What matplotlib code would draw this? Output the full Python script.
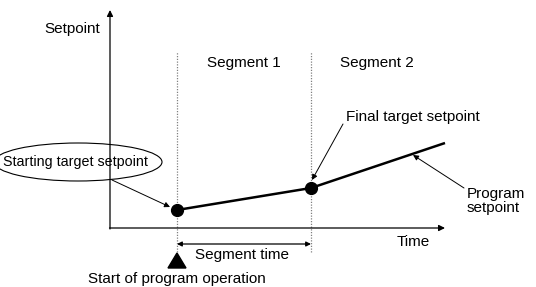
import matplotlib
matplotlib.use("Agg")
import matplotlib.pyplot as plt
from matplotlib.patches import Ellipse, Polygon

plt.rcParams['font.family'] = ['Liberation Sans', 'DejaVu Sans']

# schematic units: time to the right of the setpoint axis, setpoint above the time axis
times = [67, 201, 335]
setpoints = [18, 40, 85]
segment_edges = [67, 201]
segment_names = ["Segment 1", "Segment 2"]
segment_label_x = [134, 267]

fig = plt.figure(figsize=(5.36, 2.87), dpi=100)
ax = fig.add_axes([0, 0, 1, 1])
ax.set_xlim(-110, 426)
ax.set_ylim(-59, 228)
ax.axis('off')

fs = 11

# axes with arrows
ax.annotate("", xy=(0, 218), xytext=(0, -1),
            arrowprops=dict(arrowstyle="-|>", color="black", lw=0.9,
                            mutation_scale=9, shrinkA=0, shrinkB=0))
ax.annotate("", xy=(335, 0), xytext=(-0.5, 0),
            arrowprops=dict(arrowstyle="-|>", color="black", lw=0.9,
                            mutation_scale=9, shrinkA=0, shrinkB=0))
ax.text(-10, 199, "Setpoint", fontsize=fs, ha="right", va="center")
ax.text(303, -14, "Time", fontsize=fs, ha="center", va="center")

# segment boundaries
for x in segment_edges:
    ax.plot([x, x], [-24, 176], color="gray", lw=0.9, ls=(0, (1, 1.2)))
for x, name in zip(segment_label_x, segment_names):
    ax.text(x, 165, name, fontsize=fs, ha="center", va="center")

# program line
ax.plot(times, setpoints, color="black", lw=1.8, solid_capstyle="butt")
ax.plot(times[:2], setpoints[:2], 'o', color="black", ms=8.5)

# segment time
ax.annotate("", xy=(segment_edges[0], -16), xytext=(segment_edges[1], -16),
            arrowprops=dict(arrowstyle="<|-|>", color="black", lw=0.9,
                            mutation_scale=7, shrinkA=0, shrinkB=0))
ax.text(132, -27, "Segment time", fontsize=fs, ha="center", va="center")

# start marker
ax.add_patch(Polygon([(segment_edges[0] - 9, -40), (segment_edges[0] + 9, -40),
                      (segment_edges[0], -25)], closed=True, color="black"))
ax.text(segment_edges[0], -58.5, "Start of program operation", fontsize=fs,
        ha="center", va="bottom")

# callouts
ax.add_patch(Ellipse((-32, 66), 168, 38, facecolor="white", edgecolor="black", lw=0.8))
ax.text(-35, 66, "Starting target setpoint", fontsize=10.3, ha="center", va="center")
ax.annotate("", xy=(60, 21), xytext=(2, 48),
            arrowprops=dict(arrowstyle="-|>", color="black", lw=0.7,
                            mutation_scale=8, shrinkA=0, shrinkB=0))

ax.text(236, 111, "Final target setpoint", fontsize=fs, ha="left", va="center")
ax.annotate("", xy=(202, 48), xytext=(233, 104),
            arrowprops=dict(arrowstyle="-|>", color="black", lw=0.7,
                            mutation_scale=8, shrinkA=0, shrinkB=0))

ax.text(357, 27, "Program\nsetpoint", fontsize=fs, ha="left", va="center",
        linespacing=1.05)
ax.annotate("", xy=(303, 73), xytext=(354, 40),
            arrowprops=dict(arrowstyle="-|>", color="black", lw=0.7,
                            mutation_scale=8, shrinkA=0, shrinkB=0))

fig.savefig("out.png", dpi=100, facecolor="white")
